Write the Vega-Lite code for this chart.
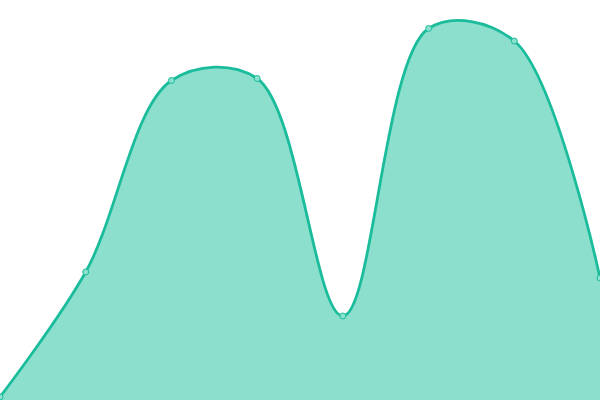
{
  "$schema": "https://vega.github.io/schema/vega-lite/v6.json",
  "width": 600,
  "height": 400,
  "autosize": {"type": "none"},
  "padding": 0,
  "config": {"view": {"stroke": null}},
  "data": {"values": [
    {"i": 0, "v": 3},
    {"i": 1, "v": 128},
    {"i": 2, "v": 319.5},
    {"i": 3, "v": 321.5},
    {"i": 4, "v": 84},
    {"i": 5, "v": 371.5},
    {"i": 6, "v": 359},
    {"i": 7, "v": 122}
  ]},
  "encoding": {
    "x": {"field": "i", "type": "quantitative", "scale": {"domain": [0, 7], "nice": false, "zero": false}, "axis": null},
    "y": {"field": "v", "type": "quantitative", "scale": {"domain": [0, 400], "nice": false}, "axis": null}
  },
  "layer": [
    {"mark": {"type": "area", "interpolate": "catmull-rom", "color": "#8cdfcd", "opacity": 1, "line": {"color": "#1abc9c", "strokeWidth": 2.8}}},
    {"mark": {"type": "point", "filled": true, "size": 36, "fill": "#8be0ce", "stroke": "#1abc9c", "strokeWidth": 1, "opacity": 1}}
  ]
}
